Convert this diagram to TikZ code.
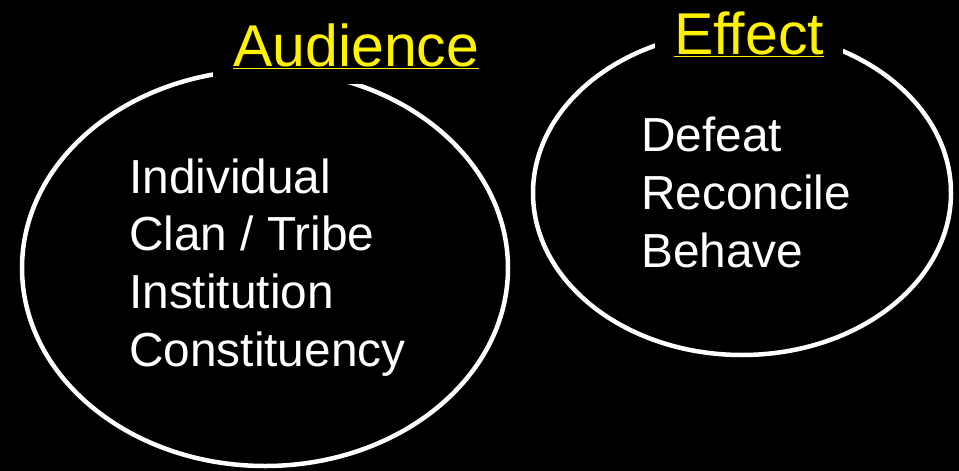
\documentclass[tikz,border=0pt]{standalone}
\usepackage{fontspec}
\setmainfont{Liberation Sans}
\usetikzlibrary{shapes.geometric}

\tikzset{
  ring/.style={ellipse, draw=white, line width=4.5pt, inner sep=0pt},
  heading/.style={fill=black, text=yellow, font=\fontsize{59}{72}\selectfont, anchor=base west},
  items/.style={text=white, align=left, font=\fontsize{47.8}{57.6}\selectfont, inner sep=0pt, anchor=base west},
}

\begin{document}
\begin{tikzpicture}[x=1pt, y=-1pt]
	\fill[black] (0,0) rectangle (959,471);
	\useasboundingbox (0,0) rectangle (959,471);
	
	\node[ring, minimum width=486pt, minimum height=396pt] (audience) at (265,268) {};
	\node[ring, minimum width=418pt, minimum height=324pt] (effect) at (742,193) {};
	
	\node[heading, inner xsep=20pt, inner ysep=15pt] (audiencetitle) at (213,66) {\underline{Audience}};
	\node[heading, inner xsep=19pt, inner ysep=12pt] (effecttitle) at (655,54) {\underline{Effect}};
	
	% base anchor sits on the last line
	\node[items] (audiencelist) at (129,366) {Individual\\Clan / Tribe\\Institution\\Constituency};
	\node[items] (effectlist) at (641,267) {Defeat\\Reconcile\\Behave};
\end{tikzpicture}
\end{document}
